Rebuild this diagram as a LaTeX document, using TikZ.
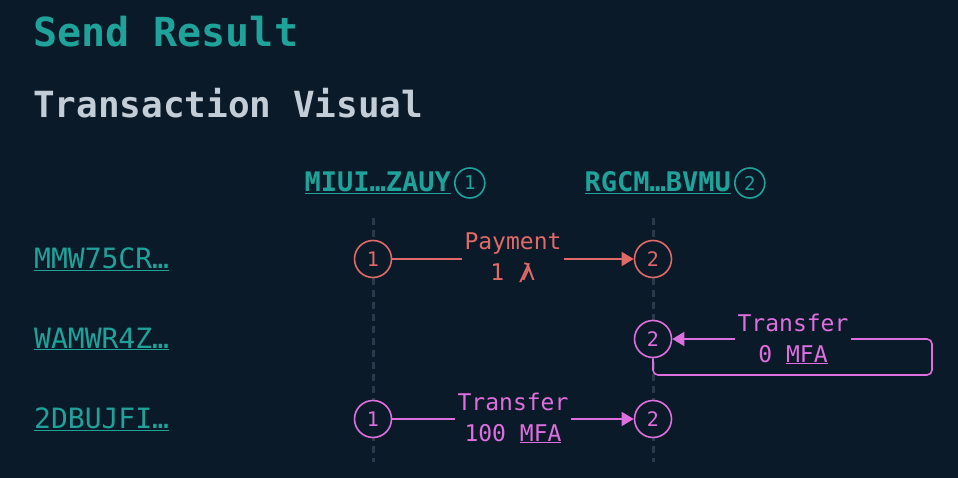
\documentclass[tikz,border=0pt]{standalone}
\usepackage{fontspec}
\setmainfont{DejaVu Sans Mono}
\usetikzlibrary{positioning,arrows.meta}
\definecolor{bgc}{HTML}{0B1A28}
\definecolor{teal}{HTML}{1FA29A}
\definecolor{greyc}{HTML}{C3CDD8}
\definecolor{pay}{HTML}{E06A68}
\definecolor{xfer}{HTML}{DE6FDE}
\definecolor{life}{HTML}{2B3A4A}
\tikzset{
  acct/.style={text=teal, font=\fontsize{28}{28}\selectfont, inner sep=1pt},
  num/.style={circle, draw, line width=1.6pt, minimum size=37pt, inner sep=0pt, font=\fontsize{20}{20}\selectfont},
  hnum/.style={circle, draw=teal, text=teal, line width=1.6pt, minimum size=30pt, inner sep=0pt, font=\fontsize{19}{19}\selectfont},
  lbl/.style={fill=bgc, align=center, inner sep=3pt, font=\fontsize{23}{31}\selectfont},
  msg/.style={line width=1.6pt, -{Triangle[length=12pt,width=14pt]}},
}
\newcommand{\ul}[1]{\underline{#1}}
\newcommand{\algo}{/\hspace{-0.45em}λ}
\begin{document}
\begin{tikzpicture}[x=1pt,y=-1pt]
\fill[bgc] (0,0) rectangle (958,478);
\useasboundingbox (0,0) rectangle (958,478);
% titles
\node[anchor=west, text=teal, font=\fontsize{40}{40}\selectfont\bfseries, inner sep=0] at (33,32) {Send Result};
\node[anchor=west, text=greyc, font=\fontsize{36}{36}\selectfont\bfseries, inner sep=0] at (33,103) {Transaction Visual};
% column heads
\node[acct, anchor=east, font=\fontsize{27}{27}\selectfont\bfseries] (hA) at (452,183) {\ul{MIUI…ZAUY}};
\node[hnum, right=2pt of hA] {1};
\node[acct, anchor=east, font=\fontsize{27}{27}\selectfont\bfseries] (hB) at (732,183) {\ul{RGCM…BVMU}};
\node[hnum, right=2pt of hB] {2};
% lifelines
\draw[life, line width=3pt, dash pattern=on 7pt off 5pt] (373,218) -- (373,462);
\draw[life, line width=3pt, dash pattern=on 7pt off 5pt] (653,218) -- (653,462);
% row labels
\node[acct, anchor=west] (r1) at (33,259) {\ul{MMW75CR…}};
\node[acct, anchor=west] (r2) at (33,339) {\ul{WAMWR4Z…}};
\node[acct, anchor=west] (r3) at (33,419) {\ul{2DBUJFI…}};
% row 1
\node[num, draw=pay, text=pay, fill=bgc] (p1) at (373,259) {1};
\node[num, draw=pay, text=pay, fill=bgc] (p2) at (653,259) {2};
\draw[msg, pay] (p1) -- (p2);
\node[lbl, text=pay] at (513,258) {Payment\\1 \algo};
% row 2
\node[num, draw=xfer, text=xfer, fill=bgc] (t2) at (653,339) {2};
\coordinate (c1) at (932,339);
\draw[msg, xfer, rounded corners=5pt] (t2.south) |- (932,375) -- (c1) -- (t2);
\node[lbl, text=xfer] at (793,339) {Transfer\\0 \ul{MFA}};
% row 3
\node[num, draw=xfer, text=xfer, fill=bgc] (q1) at (373,419) {1};
\node[num, draw=xfer, text=xfer, fill=bgc] (q2) at (653,419) {2};
\draw[msg, xfer] (q1) -- (q2);
\node[lbl, text=xfer] at (513,418) {Transfer\\100 \ul{MFA}};
\end{tikzpicture}
\end{document}
